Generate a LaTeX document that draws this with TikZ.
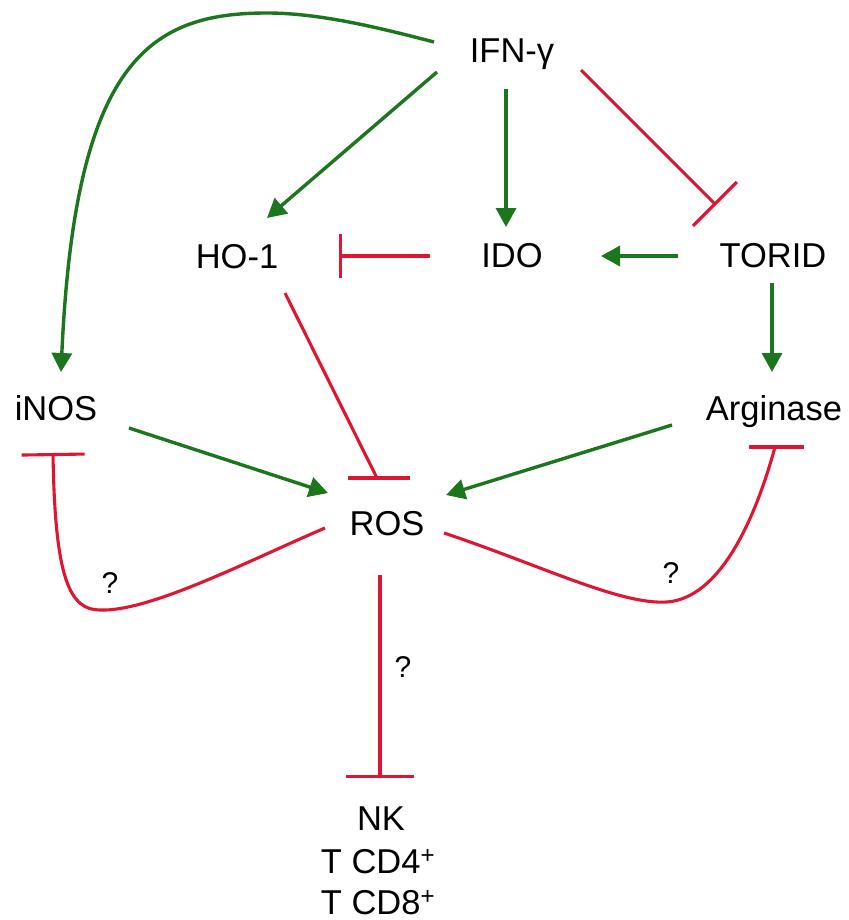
\documentclass[tikz,border=0pt]{standalone}
\usepackage{fontspec}
\setmainfont{Liberation Sans}
\usetikzlibrary{arrows.meta,calc}
\definecolor{actgreen}{RGB}{28,118,30}
\definecolor{inhred}{RGB}{222,22,50}
\begin{document}
\begin{tikzpicture}[x=1pt,y=-1pt,
  lbl/.style={font=\fontsize{34.5}{40}\selectfont, inner sep=0pt, anchor=base},
  qm/.style={font=\fontsize{30}{34}\selectfont, inner sep=0pt},
  act/.style={draw=actgreen, line width=3.4pt, -{Triangle[length=19pt,width=20pt]}},
  inh/.style={draw=inhred, line width=3.1pt},
  ]
\fill[white] (0,0) rectangle (848,920);
\useasboundingbox (0,0) rectangle (848,920);

% nodes
\node[lbl] (ifn)   at (512,63)  {IFN-γ};
\node[lbl] (ho)    at (237,268) {HO-1};
\node[lbl] (ido)   at (512,267) {IDO};
\node[lbl] (torid) at (773,267) {TORID};
\node[lbl] (inos)  at (56,420)  {iNOS};
\node[lbl] (arg)   at (774,420) {Arginase};
\node[lbl] (ros)   at (387,535) {ROS};
\node[lbl] (nk)    at (381,830) {NK};
\node[lbl] (cd4)   at (378,873) {T CD4\textsuperscript{+}};
\node[lbl] (cd8)   at (378,914) {T CD8\textsuperscript{+}};

% activations (green)
\draw[act] ([shift={(-78,-21)}]ifn.base) .. controls (380,28) and (320,13) .. (267,13)
           .. controls (150,13) and (75,60) .. ([shift={(5,-48)}]inos.base);
\draw[act] ([shift={(-75,9)}]ifn.base) -- ([shift={(30,-50)}]ho.base);
\draw[act] ([shift={(-6,26)}]ifn.base) -- ([shift={(-6,-40)}]ido.base);
\draw[act] ([shift={(-95,-11)}]torid.base) -- ([shift={(89,-11)}]ido.base);
\draw[act] ([shift={(-1,16)}]torid.base) -- ([shift={(-2,-48)}]arg.base);
\draw[act] ([shift={(73,8)}]inos.base) -- ([shift={(-59,-42)}]ros.base);
\draw[act] ([shift={(-102,5)}]arg.base) -- ([shift={(59,-40)}]ros.base);

% inhibitions (red)
\draw[inh,-{Bar[width=62pt]}] ([shift={(69,7)}]ifn.base) -- ([shift={(-57,-62)}]torid.base);
\draw[inh,-{Bar[width=44pt]}] ([shift={(-82,-11)}]ido.base) -- ([shift={(102,-12)}]ho.base);
\draw[inh] ([shift={(48,25)}]ho.base) -- ([shift={(-10,-57)}]ros.base);
\draw[inh] ([shift={(-39,-57)}]ros.base) -- ([shift={(23,-57)}]ros.base);
\draw[inh,-{Bar[width=63pt]}] ([shift={(-62,-7)}]ros.base) .. controls (250,560) and (150,612) .. (100,610)
           .. controls (70,610) and (55,580) .. ([shift={(-3,33)}]inos.base);
\draw[inh] ([shift={(57,-2)}]ros.base) .. controls (540,565) and (620,605) .. (667,602)
           .. controls (720,598) and (755,520) .. ([shift={(1,27)}]arg.base);
\draw[inh] ([shift={(-25,27)}]arg.base) -- ([shift={(30,27)}]arg.base);
\draw[inh,-{Bar[width=68pt]}] ([shift={(-7,40)}]ros.base) -- ([shift={(-1,-52)}]nk.base);

% question marks
\node[qm] (q1) at (110,583) {?};
\node[qm] (q2) at (671,573) {?};
\node[qm] (q3) at (403,667) {?};
\end{tikzpicture}
\end{document}
